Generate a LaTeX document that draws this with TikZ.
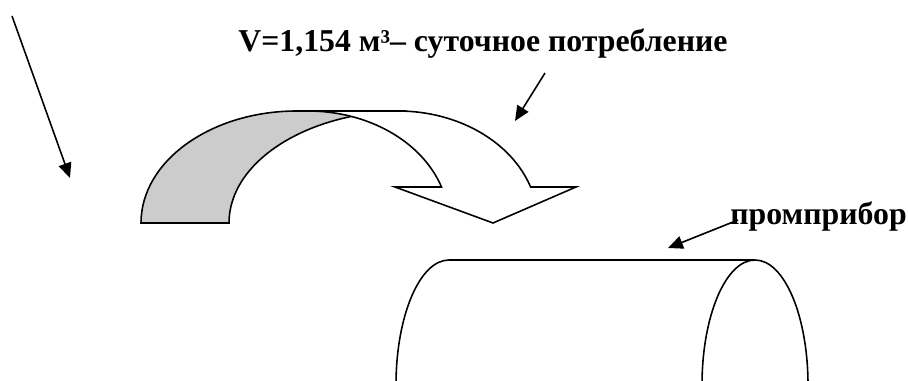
\documentclass[tikz,border=0pt]{standalone}
\usepackage{fontspec}
\setmainfont{Liberation Serif}
\usetikzlibrary{arrows.meta}
\definecolor{backband}{HTML}{CCCCCC}

\begin{document}
\begin{tikzpicture}[
    x=0.02cm, y=0.02cm,
    outline/.style={draw, line width=0.9pt},
    pointer/.style={-{Triangle[length=8.5pt, width=7.4pt]}, line width=0.9pt},
    label/.style={font=\fontsize{18.1}{21}\selectfont\bfseries, inner sep=0pt, anchor=base west},
]
    \clip (0,0) rectangle (908,381);

    % texts
    \node[label] (volume) at (238,329) {V=1,154 м³– суточное потребление};
    \node[label] (device) at (730,156) {промприбор};

    % back part of the curved arrow
    \draw[outline, fill=backband] (141,158)
        arc[start angle=180, end angle=90, x radius=156, y radius=112] -- (406,270)
        arc[start angle=90, end angle=180, x radius=177, y radius=112] -- cycle;
    % front part with the head
    \draw[outline, fill=white] (297,270) -- (398,270)
        arc[start angle=90, end angle=18.75, x radius=140, y radius=112]
        -- (576,194) -- (493,158) -- (395,194) -- (441.5,194)
        arc[start angle=18.75, end angle=90, x radius=141, y radius=112] -- cycle;

    % the tank
    \draw[outline] (396,-4) arc[start angle=180, end angle=90, x radius=53, y radius=125]
        -- (755,121);
    \draw[outline] (755,-4) ellipse[x radius=53, y radius=125];

    % pointers
    \coordinate (inflowstart) at (12,365);
    \coordinate (inflowend) at (70,203);
    \coordinate (volstart) at (545,308);
    \coordinate (volend) at (515,260);
    \coordinate (devstart) at (738,161);
    \coordinate (devend) at (668,133);
    \draw[pointer] (inflowstart) -- (inflowend);
    \draw[pointer] (volstart) -- (volend);
    \draw[pointer] (devstart) -- (devend);

\end{tikzpicture}
\end{document}
